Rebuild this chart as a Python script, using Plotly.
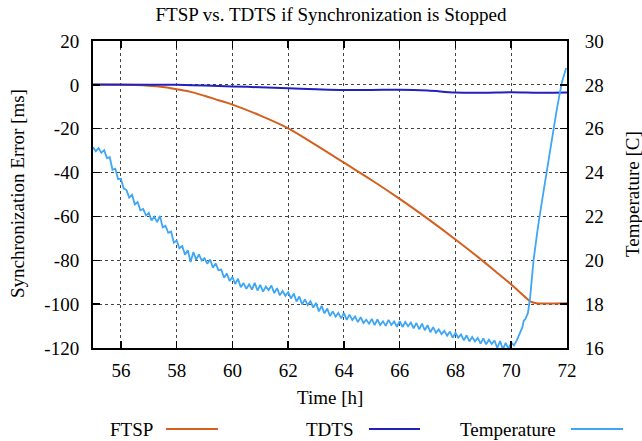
import plotly.graph_objects as go

# ---------------- data ----------------
ftsp_time = [55, 56, 56.5, 57, 57.5, 58, 58.5, 59, 59.5, 60, 61, 62, 63, 64, 65, 66,
             67, 68, 69, 69.5, 70, 70.3, 70.5, 70.7, 70.9, 71.2, 72]
ftsp_err = [0, 0, -0.1, -0.4, -1.0, -2.0, -3.2, -5.0, -7.0, -9.0, -14.0, -19.8, -27.5,
            -35.5, -43.5, -52.0, -61.0, -70.5, -80.5, -85.8, -91.0, -94.5, -96.8,
            -98.9, -99.6, -99.7, -99.6]

tdts_time = [55, 57, 58, 59, 60, 61, 62, 63, 64, 65, 66, 67, 68, 69, 70, 71, 72]
tdts_err = [0.2, 0.1, 0.0, -0.3, -0.7, -1.1, -1.6, -2.0, -2.3, -2.3, -2.2, -2.6,
            -3.5, -3.6, -3.4, -3.6, -3.5]

temp_time = [
    55.0, 55.1, 55.2, 55.3, 55.4, 55.5, 55.6, 55.7, 55.8, 55.9,
    56.0, 56.1, 56.2, 56.3, 56.4, 56.5, 56.6, 56.7, 56.8, 56.9,
    57.0, 57.1, 57.2, 57.3, 57.4, 57.5, 57.6, 57.7, 57.8, 57.9,
    58.0, 58.1, 58.2, 58.3, 58.4, 58.5, 58.6, 58.7, 58.8, 58.9,
    59.0, 59.1, 59.2, 59.3, 59.4, 59.5, 59.6, 59.7, 59.8, 59.9,
    60.0, 60.1, 60.2, 60.3, 60.4, 60.5, 60.6, 60.7, 60.8, 60.9,
    61.0, 61.1, 61.2, 61.3, 61.4, 61.5, 61.6, 61.7, 61.8, 61.9,
    62.0, 62.1, 62.2, 62.3, 62.4, 62.5, 62.6, 62.7, 62.8, 62.9,
    63.0, 63.1, 63.2, 63.3, 63.4, 63.5, 63.6, 63.7, 63.8, 63.9,
    64.0, 64.1, 64.2, 64.3, 64.4, 64.5, 64.6, 64.7, 64.8, 64.9,
    65.0, 65.1, 65.2, 65.3, 65.4, 65.5, 65.6, 65.7, 65.8, 65.9,
    66.0, 66.1, 66.2, 66.3, 66.4, 66.5, 66.6, 66.7, 66.8, 66.9,
    67.0, 67.1, 67.2, 67.3, 67.4, 67.5, 67.6, 67.7, 67.8, 67.9,
    68.0, 68.1, 68.2, 68.3, 68.4, 68.5, 68.6, 68.7, 68.8, 68.9,
    69.0, 69.1, 69.2, 69.3, 69.4, 69.5, 69.6, 69.7, 69.8, 69.9,
    70.0, 70.1, 70.2, 70.3, 70.4, 70.45, 70.5, 70.6, 70.68, 70.8,
    70.96, 71.15, 71.39, 71.63, 71.81, 71.97]
temp_c = [
    25.15, 24.97, 25.12, 24.90, 25.02, 24.66, 24.70, 24.13, 24.18, 23.70,
    23.72, 23.28, 23.20, 22.86, 22.99, 22.55, 22.66, 22.28, 22.34, 22.04,
    22.16, 21.82, 21.98, 21.74, 22.02, 21.50, 21.57, 21.25, 21.31, 20.80,
    20.90, 20.55, 20.65, 20.25, 20.46, 19.92, 20.38, 20.02, 20.27, 19.99,
    20.10, 19.84, 20.04, 19.66, 19.86, 19.55, 19.58, 19.20, 19.40, 19.06,
    19.24, 18.92, 19.16, 18.77, 18.96, 18.70, 18.90, 18.66, 18.97, 18.62,
    18.88, 18.57, 18.80, 18.64, 18.85, 18.50, 18.73, 18.40, 18.60, 18.38,
    18.54, 18.26, 18.48, 18.12, 18.35, 17.99, 18.22, 17.96, 18.13, 17.84,
    18.05, 17.67, 17.92, 17.58, 17.80, 17.46, 17.67, 17.43, 17.60, 17.35,
    17.59, 17.28, 17.52, 17.27, 17.44, 17.18, 17.41, 17.14, 17.29, 17.11,
    17.33, 17.04, 17.30, 17.05, 17.22, 17.01, 17.28, 17.05, 17.21, 16.97,
    17.23, 16.96, 17.19, 16.99, 17.16, 16.90, 17.14, 16.85, 17.11, 16.81,
    17.04, 16.72, 16.95, 16.69, 16.85, 16.63, 16.78, 16.56, 16.75, 16.47,
    16.69, 16.47, 16.62, 16.35, 16.58, 16.30, 16.50, 16.30, 16.46, 16.20,
    16.44, 16.17, 16.38, 16.18, 16.34, 16.00, 16.32, 15.94, 16.23, 15.96,
    16.25, 16.12, 16.35, 16.65, 16.95, 17.25, 17.30, 17.60, 18.34, 20.00,
    21.53, 23.07, 25.03, 26.85, 28.08, 28.77]

x_ticks = [56, 58, 60, 62, 64, 66, 68, 70, 72]
err_ticks = [-120, -100, -80, -60, -40, -20, 0, 20]
temp_ticks = [16, 18, 20, 22, 24, 26, 28, 30]

title_text = "FTSP vs. TDTS if Synchronization is Stopped"
x_label = "Time [h]"
y_label = "Synchronization Error [ms]"
y2_label = "Temperature [C]"
series_names = ["FTSP", "TDTS", "Temperature"]
series_colors = ["#d4601f", "#2121c0", "#3ea6f6"]

# ---------------- figure ----------------
FONT = "Liberation Serif"
FS = 19
W, H = 642, 441
PL, PT, PW, PH = 93, 41, 474, 307   # plot box in pixels


def px(x):
    return (x - PL) / PW


def py(y):
    return (PT + PH - y) / PH


fig = go.Figure()
fig.add_trace(go.Scatter(x=ftsp_time, y=ftsp_err, mode="lines", name=series_names[0],
                         line=dict(color=series_colors[0], width=2), line_shape="spline"))
fig.add_trace(go.Scatter(x=tdts_time, y=tdts_err, mode="lines", name=series_names[1],
                         line=dict(color=series_colors[1], width=2), line_shape="spline"))
fig.add_trace(go.Scatter(x=temp_time, y=temp_c, mode="lines", name=series_names[2],
                         yaxis="y2", line=dict(color=series_colors[2], width=1.8)))

axis_common = dict(
    ticks="inside", ticklen=7, tickwidth=1.5, tickcolor="black",
    showline=True, linewidth=2, linecolor="black",
    zeroline=False,
    tickfont=dict(family=FONT, size=FS, color="black"),
)

fig.update_layout(
    width=W, height=H,
    margin=dict(l=PL, r=W - PL - PW, t=PT, b=H - PT - PH, pad=0),
    paper_bgcolor="white", plot_bgcolor="white",
    showlegend=False,
    font=dict(family=FONT, size=FS, color="black"),
    title=dict(text=title_text, x=331 / W, xanchor="center",
               y=1 - 14 / H, yanchor="middle",
               font=dict(family=FONT, size=FS, color="black")),
    xaxis=dict(range=[55, 72], tickvals=x_ticks, ticktext=[str(v) for v in x_ticks],
               mirror="ticks",
               showgrid=True, gridcolor="#444", griddash="dot", gridwidth=1,
               ticklabelstandoff=4, **axis_common),
    yaxis=dict(range=[-120, 20], tickvals=err_ticks, ticktext=[str(v) for v in err_ticks],
               mirror="ticks",
               showgrid=True, gridcolor="#444", griddash="dot", gridwidth=1,
               ticklabelstandoff=8, **axis_common),
    yaxis2=dict(range=[16, 30], tickvals=temp_ticks, ticktext=[str(v) for v in temp_ticks],
                overlaying="y", side="right",
                showgrid=False, ticklabelstandoff=12, **axis_common),
)

# axis titles
fig.add_annotation(text=x_label, xref="paper", yref="paper", x=px(330), y=py(397),
                   xanchor="center", yanchor="middle", showarrow=False,
                   font=dict(family=FONT, size=FS, color="black"))
fig.add_annotation(text=y_label, xref="paper", yref="paper", x=px(17), y=py(194),
                   xanchor="center", yanchor="middle", textangle=-90, showarrow=False,
                   font=dict(family=FONT, size=FS, color="black"))
fig.add_annotation(text=y2_label, xref="paper", yref="paper", x=px(632), y=py(194),
                   xanchor="center", yanchor="middle", textangle=-90, showarrow=False,
                   font=dict(family=FONT, size=FS, color="black"))

# legend (text followed by line sample), gnuplot style
legend_y = py(429)
legend_text_right = [155, 356, 558]
legend_line_span = [(166, 218), (369, 420), (571, 623)]
for name, color, tr, (l0, l1) in zip(series_names, series_colors, legend_text_right, legend_line_span):
    fig.add_annotation(text=name, xref="paper", yref="paper", x=px(tr), y=legend_y,
                       xanchor="right", yanchor="middle", showarrow=False,
                       font=dict(family=FONT, size=FS, color="black"))
    fig.add_shape(type="line", xref="paper", yref="paper",
                  x0=px(l0), x1=px(l1), y0=legend_y, y1=legend_y,
                  line=dict(color=color, width=2))

fig.write_html(
    "out.html",
    config={"displayModeBar": False, "staticPlot": True},
    post_script="document.body.style.margin='0';document.body.style.overflow='hidden';",
)
